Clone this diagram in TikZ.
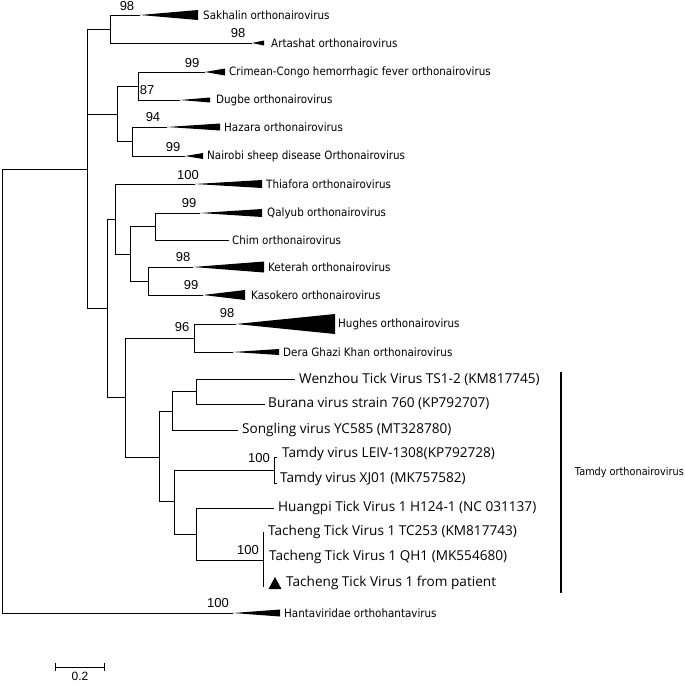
\documentclass[tikz,border=0pt]{standalone}
\usepackage{fontspec}
\setmainfont{DejaVu Sans}
\newfontfamily\smallf{DejaVu Sans}[FakeStretch=0.9]
\newfontfamily\bigf{Open Sans}
\newfontfamily\numf{Liberation Sans}
\tikzset{
  br/.style={line width=0.8pt},
  lab/.style={anchor=west,inner sep=0pt,font=\smallf\fontsize{11.5}{12}\selectfont},
  biglab/.style={anchor=west,inner sep=0pt,font=\bigf\fontsize{13.6}{14}\selectfont},
  bs/.style={inner sep=0pt,font=\numf\fontsize{13}{14}\selectfont},
}
\newcommand\clade[6]{% name, y, apex, base, halfheight, labelx
  \coordinate (#1) at (#3,#2);
  \fill (#1) -- (#4,#2-#5) -- (#4,#2+#5) -- cycle;
}
\begin{document}
\begin{tikzpicture}[x=1pt,y=-1pt]
\useasboundingbox (0,0) rectangle (685,683);
% internal nodes
\coordinate (root) at (2,391);
\coordinate (A) at (87,169);
\coordinate (SA) at (110,29);
\coordinate (B) at (117,114);
\coordinate (C) at (138,86);
\coordinate (D) at (132,141.5);
\coordinate (E) at (107,308);
\coordinate (F) at (115,219);
\coordinate (H) at (130,254);
\coordinate (I) at (155,226.5);
\coordinate (J) at (148,281);
\coordinate (L) at (125,397);
\coordinate (K) at (194,338);
\coordinate (M) at (159,457);
\coordinate (N) at (172,411);
\coordinate (O) at (196,391.5);
\coordinate (P) at (174,501);
\coordinate (Q) at (274,470);
\coordinate (R) at (196,534);
\coordinate (S) at (263,560);
% collapsed clades
\clade{sak}{15}{140}{198}{5}{}
\clade{art}{43}{252}{264}{2.5}{}
\clade{cch}{72}{205}{225}{3.5}{}
\clade{dug}{100}{180}{210}{2.5}{}
\clade{haz}{127}{167}{220}{3.5}{}
\clade{nai}{156}{185}{203}{3}{}
\clade{thi}{184}{195}{262}{4}{}
\clade{qal}{213}{200}{262}{4}{}
\clade{ket}{267}{193}{264}{5.5}{}
\clade{kas}{295}{203}{245}{5}{}
\clade{hug}{324}{236}{335}{10}{}
\clade{dgk}{352}{233}{279}{3}{}
\clade{han}{613}{233}{280}{3.5}{}
% plain leaves
\coordinate (chi) at (229,240);
\coordinate (wen) at (295,379);
\coordinate (bur) at (265,404);
\coordinate (son) at (238,430);
\coordinate (hua) at (274,508);
\coordinate (lei) at (277,457);
\coordinate (xj) at (277,483);
\coordinate (tc1) at (263,532);
\coordinate (tc3) at (263,587);
% branches
\draw[br] (root) |- (A);
\draw[br] (root) |- (han);
\draw[br] (A) |- (SA);
\draw[br] (A) |- (B);
\draw[br] (A) |- (E);
\draw[br] (SA) |- (sak);
\draw[br] (SA) |- (art);
\draw[br] (B) |- (C);
\draw[br] (B) |- (D);
\draw[br] (C) |- (cch);
\draw[br] (C) |- (dug);
\draw[br] (D) |- (haz);
\draw[br] (D) |- (nai);
\draw[br] (E) |- (F);
\draw[br] (E) |- (L);
\draw[br] (F) |- (thi);
\draw[br] (F) |- (H);
\draw[br] (H) |- (I);
\draw[br] (H) |- (J);
\draw[br] (I) |- (qal);
\draw[br] (I) |- (chi);
\draw[br] (J) |- (ket);
\draw[br] (J) |- (kas);
\draw[br] (L) |- (K);
\draw[br] (L) |- (M);
\draw[br] (K) |- (hug);
\draw[br] (K) |- (dgk);
\draw[br] (M) |- (N);
\draw[br] (M) |- (P);
\draw[br] (N) |- (O);
\draw[br] (N) |- (son);
\draw[br] (O) |- (wen);
\draw[br] (O) |- (bur);
\draw[br] (P) |- (Q);
\draw[br] (P) |- (R);
\draw[br] (Q) |- (lei);
\draw[br] (Q) |- (xj);
\draw[br] (R) |- (hua);
\draw[br] (R) |- (S);
\draw[br] (tc1) -- (tc3);
% labels
\node[lab] (sakl) at (203,15) {Sakhalin orthonairovirus};
\node[lab] (artl) at (271,43) {Artashat orthonairovirus};
\node[lab] (cchl) at (229,72) {Crimean-Congo hemorrhagic fever orthonairovirus};
\node[lab] (dugl) at (216,100) {Dugbe orthonairovirus};
\node[lab] (hazl) at (224,127) {Hazara orthonairovirus};
\node[lab] (nail) at (207,156) {Nairobi sheep disease Orthonairovirus};
\node[lab] (thil) at (266,184) {Thiafora orthonairovirus};
\node[lab] (qall) at (267,213) {Qalyub orthonairovirus};
\node[lab] (chil) at (232,240) {Chim orthonairovirus};
\node[lab] (ketl) at (268,267) {Keterah orthonairovirus};
\node[lab] (kasl) at (251,295) {Kasokero orthonairovirus};
\node[lab] (hugl) at (338,324) {Hughes orthonairovirus};
\node[lab] (dgkl) at (283,352) {Dera Ghazi Khan orthonairovirus};
\node[lab] (hanl) at (284,613) {Hantaviridae orthohantavirus};
\node[biglab] (wenl) at (299,379) {Wenzhou Tick Virus TS1-2 (KM817745)};
\node[biglab] (burl) at (268,404) {Burana virus strain 760 (KP792707)};
\node[biglab] (sonl) at (242,430) {Songling virus YC585 (MT328780)};
\node[biglab] (leil) at (282,454) {Tamdy virus LEIV-1308(KP792728)};
\node[biglab] (xjl) at (280,479) {Tamdy virus XJ01 (MK757582)};
\node[biglab] (hual) at (278,508) {Huangpi Tick Virus 1 H124-1 (NC 031137)};
\node[biglab] (tc1l) at (268,532) {Tacheng Tick Virus 1 TC253 (KM817743)};
\node[biglab] (tc2l) at (269,557) {Tacheng Tick Virus 1 QH1 (MK554680)};
\node[biglab] (tc3l) at (286,583) {Tacheng Tick Virus 1 from patient};
\fill (268.5,589) -- (281.5,589) -- (275,577) -- cycle;
% bootstrap values
\node[bs] (b1) at (127,6) {98};
\node[bs] (b2) at (238,33) {98};
\node[bs] (b3) at (192,63) {99};
\node[bs] (b4) at (147,90) {87};
\node[bs] (b5) at (153,117) {94};
\node[bs] (b6) at (173,147) {99};
\node[bs] (b7) at (188,175) {100};
\node[bs] (b8) at (189,203) {99};
\node[bs] (b9) at (183,257) {98};
\node[bs] (b10) at (191,285) {99};
\node[bs] (b11) at (227,313) {98};
\node[bs] (b12) at (182,327) {96};
\node[bs] (b13) at (259,458) {100};
\node[bs] (b14) at (248,550) {100};
\node[bs] (b15) at (218,603) {100};
% Tamdy group bar
\coordinate (gt) at (561,372);
\coordinate (gb) at (561,593);
\draw[line width=2pt] (gt) -- (gb);
\node[lab,anchor=east,font=\smallf\fontsize{10.8}{12}\selectfont] (tam) at (684,473) {Tamdy orthonairovirus};
% scale bar
\coordinate (s1) at (55,667);
\coordinate (s2) at (104,667);
\draw[br] (s1) -- (s2);
\draw[br] (55,663) -- (55,671);
\draw[br] (104,663) -- (104,671);
\node[bs,font=\numf\fontsize{12}{13}\selectfont] (sc) at (80,676.5) {0.2};
\end{tikzpicture}
\end{document}
